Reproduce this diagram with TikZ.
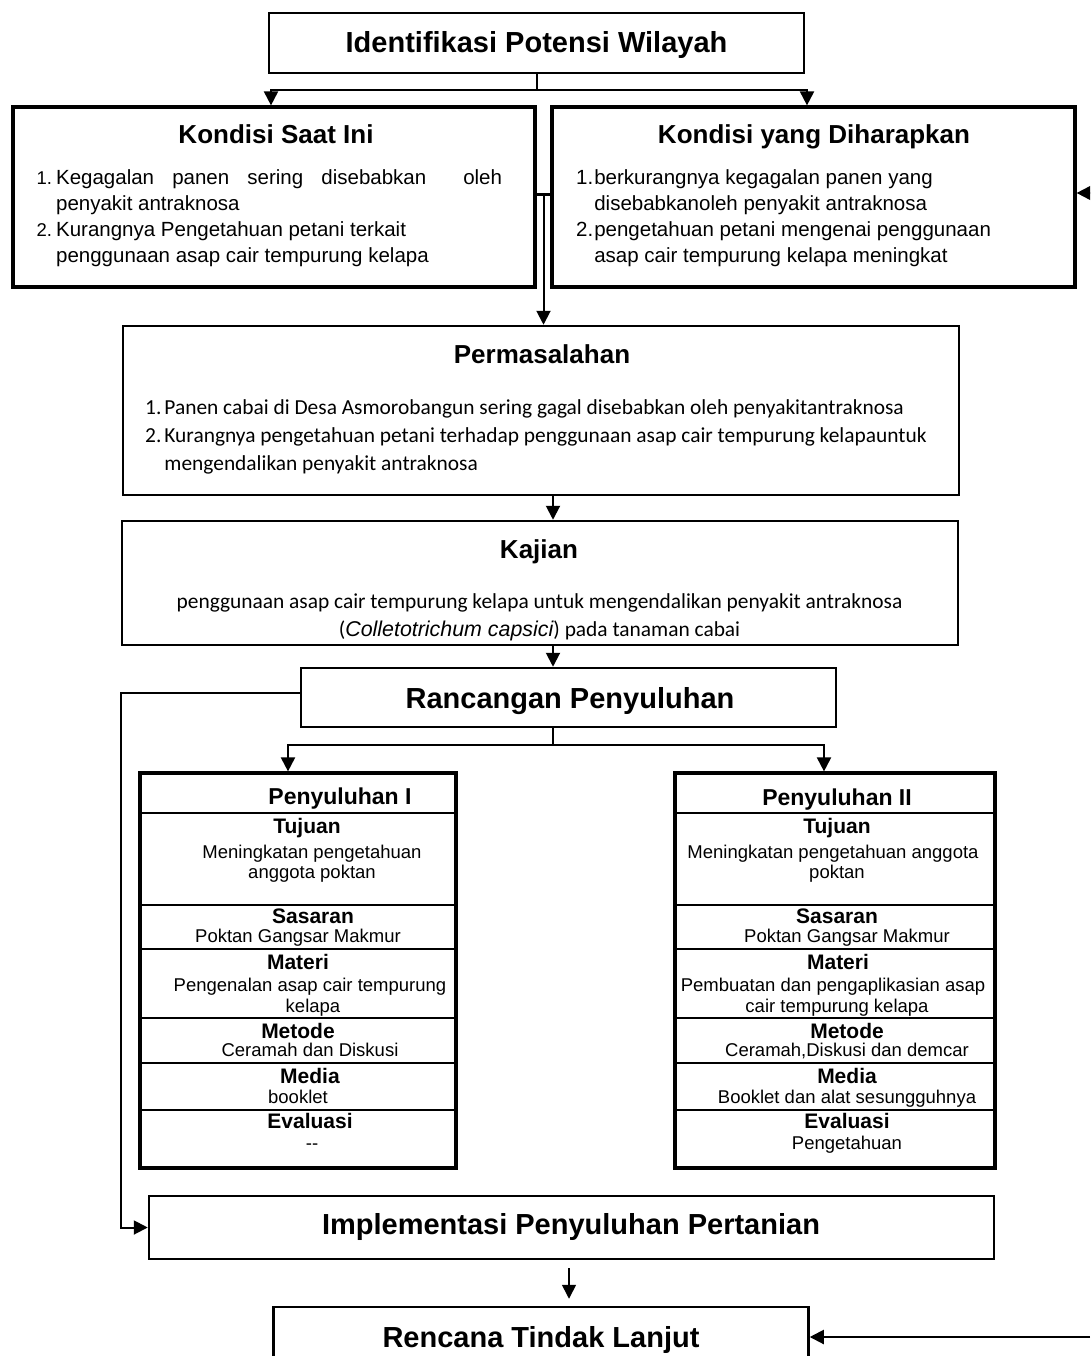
\documentclass[tikz,border=0pt]{standalone}
\usepackage{fontspec}
\setmainfont{Liberation Sans}
\newfontfamily\calibri{Carlito}
\usetikzlibrary{arrows.meta,calc}

\tikzset{
  kotak/.style={draw, line width=2.5pt, inner sep=0pt},
  tebal/.style={kotak, line width=3.2pt},
  sekat/.style={line width=2pt},
  garis/.style={line width=2.5pt},
  panah/.style={line width=2pt, -{Triangle[length=14pt, width=14pt]}},
  judul/.style={inner sep=0pt, anchor=base, font=\fontsize{29}{34}\selectfont\bfseries},
  subjudul/.style={inner sep=0pt, anchor=base, font=\fontsize{26}{30}\selectfont\bfseries},
  daftar/.style={inner sep=0pt, anchor=base west, font=\fontsize{20.5}{26}\selectfont},
  uraian/.style={inner sep=0pt, font=\calibri\fontsize{21.4}{28}\selectfont},
  kepala/.style={inner sep=0pt, anchor=base, font=\fontsize{21}{24}\selectfont\bfseries},
  kepalatabel/.style={kepala, font=\fontsize{23}{26}\selectfont\bfseries},
  isi/.style={inner sep=0pt, anchor=base, font=\fontsize{18.5}{21}\selectfont},
}
\newcommand{\nomorkecil}[1]{{\fontsize{18.5}{26}\selectfont #1}}

\begin{document}
\begin{tikzpicture}[x=1pt, y=-1pt]
\path[use as bounding box, clip] (0,0) rectangle (1090,1356);

% identifikasi dan kondisi
\node[kotak, minimum width=535pt, minimum height=60pt] (idf) at (536.5,43) {};
\node[judul] (idf-t) at (536.5,53) {Identifikasi Potensi Wilayah};

\node[tebal, minimum width=522pt, minimum height=180pt] (ksi) at (274,197) {};
\node[subjudul] (ksi-t) at (276,144) {Kondisi Saat Ini};
\node[daftar] (ksi-d) at (36.5,185) {\begin{tabular}[t]{@{}l@{\hspace{4pt}}l@{}}
  \nomorkecil{1.} & \makebox[446pt][s]{Kegagalan panen sering disebabkan\hspace{37pt}oleh}\\
     & penyakit antraknosa\\
  \nomorkecil{2.} & Kurangnya Pengetahuan petani terkait\\
     & penggunaan asap cair tempurung kelapa
\end{tabular}};

\node[tebal, minimum width=523pt, minimum height=180pt] (kyd) at (813.5,197) {};
\node[subjudul] (kyd-t) at (814,144) {Kondisi yang Diharapkan};
\node[daftar] (kyd-d) at (576,185) {\begin{tabular}[t]{@{}l@{\hspace{1pt}}l@{}}
  1. & berkurangnya kegagalan panen yang\\
     & disebabkanoleh penyakit antraknosa\\
  2. & pengetahuan petani mengenai penggunaan\\
     & asap cair tempurung kelapa meningkat
\end{tabular}};

% permasalahan dan kajian
\node[kotak, minimum width=836pt, minimum height=169pt] (msl) at (541,410.5) {};
\node[subjudul] (msl-t) at (542,363) {Permasalahan};
\node[uraian, anchor=base west] (msl-d) at (145,414) {\begin{tabular}[t]{@{}l@{\hspace{3pt}}l@{}}
  1. & Panen cabai di Desa Asmorobangun sering gagal disebabkan oleh penyakitantraknosa\\
  2. & Kurangnya pengetahuan petani terhadap penggunaan asap cair tempurung kelapauntuk\\
     & mengendalikan penyakit antraknosa
\end{tabular}};

\node[kotak, minimum width=836pt, minimum height=124pt] (kaj) at (540,583) {};
\node[subjudul] (kaj-t) at (539,558) {Kajian};
\node[uraian, anchor=base] (kaj-d) at (539.5,608) {\begin{tabular}[t]{@{}c@{}}
  penggunaan asap cair tempurung kelapa untuk mengendalikan penyakit antraknosa\\
  ({\normalfont\itshape Colletotrichum capsici}) pada tanaman cabai
\end{tabular}};

% rancangan penyuluhan
\node[kotak, minimum width=535pt, minimum height=59pt] (ran) at (568.5,697.5) {};
\node[judul] (ran-t) at (570,708) {Rancangan Penyuluhan};

\node[tebal, minimum width=316pt, minimum height=395pt] (pen1) at (298,970.5) {};
\node[tebal, minimum width=320pt, minimum height=395pt] (pen2) at (835,970.5) {};
\foreach \yy in {813,905,949,1018,1063,1110} {
  \draw[sekat] (pen1.west |- 0,\yy) -- (pen1.east |- 0,\yy);
  \draw[sekat] (pen2.west |- 0,\yy) -- (pen2.east |- 0,\yy);
}

\node[kepalatabel] (pen1-t) at (340,804) {Penyuluhan I};
\foreach \xx/\yy/\teks [count=\i] in {307/833/Tujuan, 313/923/Sasaran, 298/969/Materi,
    298/1038/Metode, 310/1083/Media, 310/1128/Evaluasi}
  \node[kepala] (pen1-k\i) at (\xx,\yy) {\teks};
\foreach \xx/\yy/\teks [count=\i] in {312/858/Meningkatan pengetahuan, 312/878/anggota poktan,
    298/942/Poktan Gangsar Makmur, 310/991/Pengenalan asap cair tempurung, 313/1012/kelapa,
    310/1056/Ceramah dan Diskusi, 298/1103/booklet, 312/1149/-{}-}
  \node[isi] (pen1-i\i) at (\xx,\yy) {\teks};

\node[kepalatabel] (pen2-t) at (837,805) {Penyuluhan II};
\foreach \xx/\yy/\teks [count=\i] in {837/833/Tujuan, 837/923/Sasaran, 838/969/Materi,
    847/1038/Metode, 847/1083/Media, 847/1128/Evaluasi}
  \node[kepala] (pen2-k\i) at (\xx,\yy) {\teks};
\foreach \xx/\yy/\teks [count=\i] in {833/858/Meningkatan pengetahuan anggota, 837/878/poktan,
    847/942/Poktan Gangsar Makmur, 833/991/Pembuatan dan pengaplikasian asap,
    837/1012/cair tempurung kelapa, {847/1056/Ceramah,Diskusi dan demcar},
    847/1103/Booklet dan alat sesungguhnya, 847/1149/Pengetahuan}
  \node[isi] (pen2-i\i) at (\xx,\yy) {\teks};

% implementasi dan tindak lanjut
\node[kotak, minimum width=845pt, minimum height=63pt] (imp) at (571.5,1227.5) {};
\node[judul] (imp-t) at (571,1234) {Implementasi Penyuluhan Pertanian};

\node[kotak, minimum width=535pt, minimum height=73pt] (rtl) at (541,1343.5) {};
\node[judul] (rtl-t) at (541,1347) {Rencana Tindak Lanjut};

% penghubung
\draw[panah] (idf.south) -- ++(0,16) -| ([xshift=-3pt]ksi.north);
\draw[panah] (idf.south) -- ++(0,16) -| ([xshift=-6.5pt]kyd.north);
\draw[garis, line width=3pt] ([yshift=2pt]ksi.east) -- ([yshift=2pt]kyd.west);
\coordinate (tengah) at ($([yshift=2pt]ksi.east)!0.5!([yshift=2pt]kyd.west)$);
\draw[panah] (tengah) -- (tengah |- msl.north);
\coordinate (luar1) at (1090,193);
\draw[panah] (luar1) -- (kyd.east |- luar1);

\draw[panah] ([xshift=12pt, yshift=2pt]msl.south) -- ([xshift=12pt]msl.south |- kaj.north);
\draw[panah] ([xshift=13pt]kaj.south) -- ([xshift=13pt]kaj.south |- ran.north);

\draw[panah] ([xshift=-15.5pt]ran.south) -- ++(0,16.5) -| ([xshift=-10pt]pen1.north);
\draw[panah] ([xshift=-15.5pt]ran.south) -- ++(0,16.5) -| ([xshift=-11pt]pen2.north);

\coordinate (kiri) at (121,0);
\draw[panah] ([yshift=4.5pt]ran.west) -- ([yshift=4.5pt]ran.west -| kiri) |- (imp.west);

\draw[panah, line width=1.6pt, shorten <=8pt, shorten >=7pt] ([xshift=-2.5pt]imp.south) -- ([xshift=-2.5pt]imp.south |- rtl.north);
\coordinate (luar2) at (1090,1337);
\draw[panah] (luar2) -- (rtl.east |- luar2);
\end{tikzpicture}
\end{document}
